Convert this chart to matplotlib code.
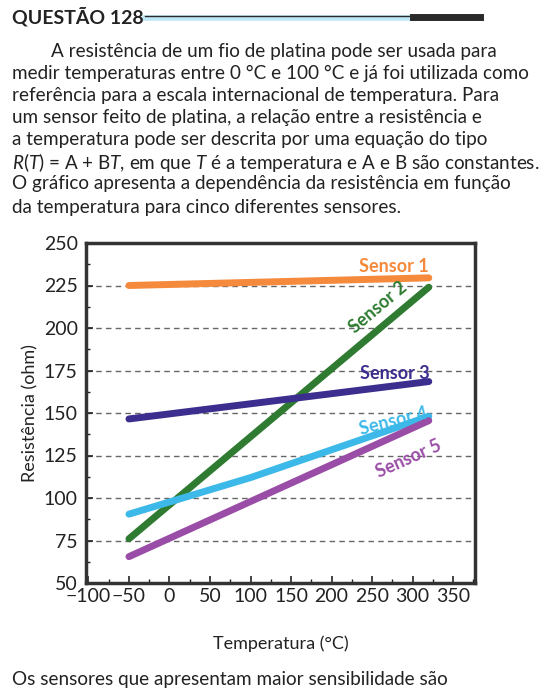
import matplotlib
matplotlib.use("Agg")
import matplotlib.pyplot as plt
from matplotlib.ticker import MultipleLocator

temps = [-50, 320]
sensor1 = [225, 229.5]
sensor2 = [76, 224]
sensor3 = [146.5, 168.5]
sensor4_t = [-50, 100, 320]
sensor4 = [90.5, 112, 148]
sensor5 = [65.5, 145.5]
colors = ["#F58A3C", "#2E7B31", "#3C2E8E", "#3DB9E9", "#9A4DA6"]

FONT = "Lato"
plt.rcParams['font.family'] = [FONT, 'DejaVu Sans']
plt.rcParams['mathtext.fontset'] = 'custom'
plt.rcParams['mathtext.it'] = FONT + ':italic'
plt.rcParams['mathtext.rm'] = FONT
fig = plt.figure(figsize=(5.6, 6.92), dpi=100)

fig.text(12/560, 1-17/692, "QUESTÃO 128", fontsize=14, fontweight="bold", color="#222", va="center")
fig.add_artist(plt.Line2D([145/560, 413/560], [1-18/692]*2, color="#BDE6F7", lw=4))
fig.add_artist(plt.Line2D([413/560, 480/560], [1-17/692]*2, color="#2a2a2a", lw=5))
fig.add_artist(plt.Line2D([145/560, 413/560], [1-15.5/692]*2, color="#2a2a2a", lw=1))

lines = [
    ("        A resistência de um fio de platina pode ser usada para", 52),
    ("medir temperaturas entre 0 °C e 100 °C e já foi utilizada como", 73),
    ("referência para a escala internacional de temperatura. Para", 95),
    ("um sensor feito de platina, a relação entre a resistência e", 117),
    ("a temperatura pode ser descrita por uma equação do tipo", 139),
    ("$R$($T$) = A + B$T$, em que $T$ é a temperatura e A e B são constantes.", 162),
    ("O gráfico apresenta a dependência da resistência em função", 184),
    ("da temperatura para cinco diferentes sensores.", 207),
]
for s, y in lines:
    fig.text(12/560, 1-y/692, s, fontsize=13.6, color="#222", va="center")
fig.text(12/560, 1-680/692, "Os sensores que apresentam maior sensibilidade são", fontsize=13.6, color="#222", va="center")

ax = fig.add_axes([86/560, 1-583/692, (475-86)/560, (583-243)/692])
ax.plot(temps, sensor1, color=colors[0], lw=5, solid_capstyle="round")
ax.plot(temps, sensor2, color=colors[1], lw=5, solid_capstyle="round")
ax.plot(temps, sensor3, color=colors[2], lw=5, solid_capstyle="round")
ax.plot(sensor4_t, sensor4, color=colors[3], lw=5, solid_capstyle="round")
ax.plot(temps, sensor5, color=colors[4], lw=5, solid_capstyle="round")
ax.set_xlim(-103, 377)
ax.set_ylim(50, 250)
for v in range(75, 250, 25):
    ax.axhline(v, color="#666", lw=1, ls=(0, (4, 3)), zorder=0)
ax.xaxis.set_major_locator(MultipleLocator(50))
ax.xaxis.set_minor_locator(MultipleLocator(25))
ax.yaxis.set_major_locator(MultipleLocator(25))
ax.yaxis.set_minor_locator(MultipleLocator(12.5))
ax.tick_params(which="both", direction="in", top=False, right=False, labelsize=14, colors="#222")
ax.tick_params(axis="y", pad=6)
ax.tick_params(which="major", length=5, width=1.2)
ax.tick_params(which="minor", length=3, width=1)
for sp in ax.spines.values():
    sp.set_linewidth(2.5)
    sp.set_color("#333")
ax.set_xticks(range(-100, 351, 50))
ax.set_xticklabels(["\u2212100", "\u221250"] + [str(v) for v in range(0, 351, 50)])
ax.set_xlabel("Temperatura (°C)", fontsize=13, labelpad=22, color="#222")
ax.set_ylabel("Resistência (ohm)", fontsize=13, color="#222", labelpad=4)

kw = dict(fontsize=13, fontweight="bold")
ax.text(320, 236, "Sensor 1", color=colors[0], ha="right", va="center", **kw)
ax.text(258, 212, "Sensor 2", color=colors[1], ha="center", va="center", rotation=40, **kw)
ax.text(321, 173, "Sensor 3", color=colors[2], ha="right", va="center", **kw)
ax.text(276, 145, "Sensor 4", color=colors[3], ha="center", va="center", rotation=14, **kw)
ax.text(295, 123, "Sensor 5", color=colors[4], ha="center", va="center", rotation=24, **kw)

fig.savefig("out.png", dpi=100)
